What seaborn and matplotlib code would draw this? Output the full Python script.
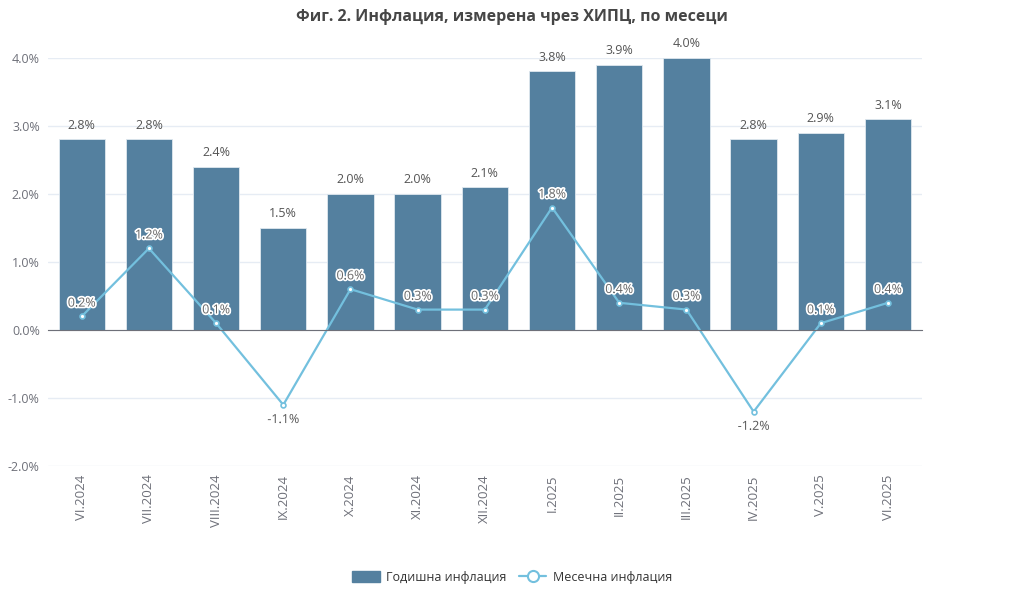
import matplotlib
matplotlib.use('Agg')
import matplotlib.pyplot as plt
import matplotlib.patheffects as pe
from matplotlib.patches import Patch
from matplotlib.lines import Line2D
from matplotlib.ticker import FixedLocator, FuncFormatter
import seaborn as sns
import pandas as pd

months = ['VI.2024', 'VII.2024', 'VIII.2024', 'IX.2024', 'X.2024', 'XI.2024', 'XII.2024',
          'I.2025', 'II.2025', 'III.2025', 'IV.2025', 'V.2025', 'VI.2025']
annual = [2.8, 2.8, 2.4, 1.5, 2.0, 2.0, 2.1, 3.8, 3.9, 4.0, 2.8, 2.9, 3.1]
monthly = [0.2, 1.2, 0.1, -1.1, 0.6, 0.3, 0.3, 1.8, 0.4, 0.3, -1.2, 0.1, 0.4]

title = 'Фиг. 2. Инфлация, измерена чрез ХИПЦ, по месеци'
bar_name = 'Годишна инфлация'
line_name = 'Месечна инфлация'

bar_color = '#54809f'
line_color = '#73c0de'
text_gray = '#6e7079'

df = pd.DataFrame({'month': months, 'annual': annual, 'monthly': monthly})

sns.set_style('white')
plt.rcParams['font.family'] = ['Open Sans', 'DejaVu Sans']

fig = plt.figure(figsize=(10.24, 5.9), dpi=100)
ax = fig.add_axes([0.047, 0.21, 0.853, 0.692])

sns.barplot(data=df, x='month', y='annual', color=bar_color, width=0.69,
            saturation=1, ax=ax, zorder=2, edgecolor='#dfe8ef', linewidth=0.6)
sns.pointplot(data=df, x='month', y='monthly', color=line_color, errorbar=None,
              ax=ax, markers='o', markersize=3.5, markerfacecolor='white',
              markeredgecolor=line_color, markeredgewidth=1.2, linewidth=1.6)
for coll in ax.collections:
    coll.set_zorder(4)
for ln in ax.lines:
    ln.set_zorder(3)

ax.set_ylim(-2.0, 4.0)
ax.set_xlim(-0.5, len(months) - 0.5)
ax.set_yticks([-2, -1, 0, 1, 2, 3, 4])
ax.yaxis.set_major_formatter(FuncFormatter(lambda v, p: f'{v:.1f}%'))
ax.tick_params(axis='y', length=0, labelsize=9, labelcolor=text_gray, pad=6)
ax.grid(axis='y', color='#e6ecf4', linewidth=1, zorder=0)
ax.set_axisbelow(True)
for s in ['top', 'right', 'left']:
    ax.spines[s].set_visible(False)

# zero axis line with ticks between categories
ax.spines['bottom'].set_position(('data', 0))
ax.spines['bottom'].set_color(text_gray)
ax.spines['bottom'].set_zorder(5)
ax.set_xticks([])
ax.xaxis.set_minor_locator(FixedLocator([i - 0.5 for i in range(len(months) + 1)]))
ax.tick_params(axis='x', which='minor', length=5, color=text_gray, direction='out')
ax.set_xlabel('')
ax.set_ylabel('')

sec = ax.secondary_xaxis(0)
sec.set_xticks(range(len(months)))
sec.set_xticklabels(months, rotation=90, fontsize=9.5, color=text_gray)
sec.tick_params(length=0, pad=6)
sec.spines['bottom'].set_visible(False)

for i, v in enumerate(annual):
    ax.text(i, v + 0.11, f'{v:.1f}%', ha='center', va='bottom', fontsize=9,
            color='#555555', zorder=6)

halo = [pe.withStroke(linewidth=2.5, foreground='white')]
for i, v in enumerate(monthly):
    if v < 0:
        ax.text(i, v - 0.12, f'{v:.1f}%', ha='center', va='top', fontsize=9,
                color='#555555', zorder=6, path_effects=halo)
    else:
        ax.text(i, v + 0.1, f'{v:.1f}%', ha='center', va='bottom', fontsize=9,
                color='#666666', zorder=6, path_effects=halo)

fig.text(0.5, 0.972, title, ha='center', va='center', fontsize=11.5,
         fontweight='bold', color='#464646')

handles = [Patch(facecolor=bar_color, edgecolor=bar_color, label=bar_name),
           Line2D([0], [0], color=line_color, linewidth=1.6, marker='o', markersize=8,
                  markerfacecolor='white', markeredgecolor=line_color,
                  markeredgewidth=1.5, label=line_name)]
fig.legend(handles=handles, loc='center', bbox_to_anchor=(0.5, 0.022), ncol=2,
           frameon=False, fontsize=9, labelcolor='#333333', handlelength=2.2,
           handleheight=1.0, columnspacing=1.0, handletextpad=0.5)

fig.savefig('out.png', dpi=100)
